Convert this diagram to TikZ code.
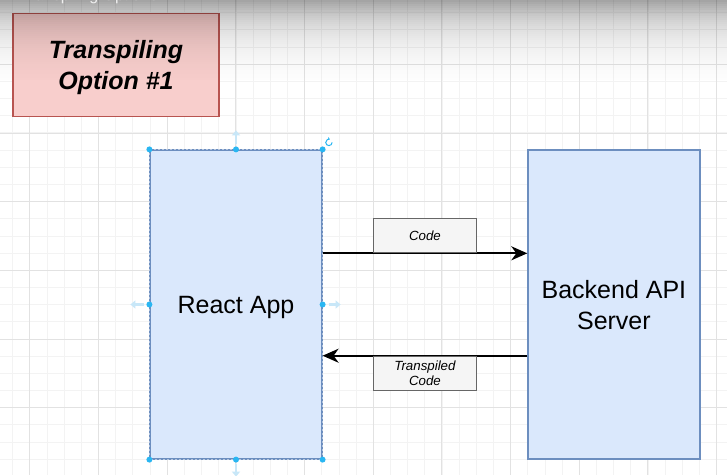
\documentclass[tikz,border=0pt]{standalone}
\usepackage{fontspec}
\setmainfont{Liberation Sans}
\usepackage{tikz}
\usetikzlibrary{arrows.meta}

\definecolor{appfill}{HTML}{DAE8FC}
\definecolor{appline}{HTML}{6C8EBF}
\definecolor{titlefill}{HTML}{F8CECC}
\definecolor{titleline}{HTML}{B85450}
\definecolor{tagfill}{HTML}{F5F5F5}
\definecolor{tagline}{HTML}{666666}
\definecolor{handle}{HTML}{29B6F2}
\definecolor{ghostblue}{HTML}{C8E7F8}
\definecolor{gridminor}{HTML}{F3F3F3}
\definecolor{gridmajor}{HTML}{E2E2E2}

\tikzset{
  block/.style={draw=appline, fill=appfill, line width=1.2pt, minimum width=172pt,
    minimum height=309pt, align=center, inner sep=0pt, text depth=0pt,
    font=\fontsize{25}{31}\selectfont},
  tag/.style={draw=tagline, fill=tagfill, line width=1pt, minimum width=103pt,
    minimum height=34pt, align=center, inner sep=0pt,
    font=\fontsize{13.3}{15}\selectfont\itshape},
  flow/.style={line width=2pt, -{Stealth[length=16pt,width=14pt,inset=5pt]}},
  ghost/.style={draw=ghostblue, line width=2.5pt, -{Triangle[length=5pt,width=8pt]}},
}

\begin{document}
\begin{tikzpicture}[x=1pt,y=-1pt]
  \useasboundingbox (0,0) rectangle (727,475);
  \fill[white] (0,0) rectangle (727,475);
  % grid
  \foreach \i in {0,...,42}
    \draw[gridminor, line width=0.8pt] ({12.7+\i*17.17},0) -- ++(0,475);
  \foreach \i in {0,...,27}
    \draw[gridminor, line width=0.8pt] (0,{12.7+\i*17.17}) -- ++(727,0);
  \foreach \i in {0,...,10}
    \draw[gridmajor, line width=0.8pt] ({29.7+\i*68.68},0) -- ++(0,475);
  \foreach \i in {1,...,7}
    \draw[gridmajor, line width=0.8pt] (0,{-4.4+\i*68.68}) -- ++(727,0);

  \node[draw=titleline, fill=titlefill, line width=1.5pt, minimum width=206pt,
    minimum height=103pt, align=center, inner sep=0pt, text depth=0pt,
    font=\fontsize{25}{31}\selectfont\bfseries\itshape] (title) at (116,64.8)
    {Transpiling\\Option \#1};

  \node[block] (react) at (236,304.5) {React App};
  \node[block] (backend) at (613.9,304.5) {Backend API\\Server};

  \path[flow] ([yshift=51.2pt]react.east) edge node[tag, above] {Code}
    ([yshift=51.2pt]backend.west);
  \path[flow] ([yshift=-51.2pt]backend.west) edge node[tag, below] {Transpiled\\Code}
    ([yshift=-51.2pt]react.west -| react.east);

  % selection handles
  \draw[white, line width=0.8pt, dash pattern=on 2pt off 2pt, opacity=0.5]
    (react.north west) rectangle (react.south east);
  \foreach \p in {north west,north,north east,west,east,south west,south,south east}
    \fill[handle] (react.\p) circle (3pt);
  \draw[ghost] ([yshift=5pt]react.north) -- ++(0,-14);
  \draw[ghost] ([xshift=-5pt]react.west) -- ++(-14,0);
  \draw[ghost] ([xshift=6pt]react.east) -- ++(12,0);
  \draw[ghost] ([yshift=-4pt]react.south) -- ++(0,13);
  \draw[handle, line width=1pt, -{Stealth[length=2.5pt,width=3pt]}]
    ([xshift=9.5pt,yshift=7pt]react.north east) arc (0:290:3.2);

  % screen shade at the top
  \foreach \i in {0,...,39} {
    \pgfmathsetmacro\shadeop{max(0,0.39*exp(-(2*\i+1)/30)-0.02)}
    \fill[black, opacity=\shadeop] (0,{2*\i}) rectangle (727,{2*\i+2});
  }
  \node[anchor=south east, text=white!94!black, inner sep=0pt,
    font=\fontsize{16}{18}\selectfont] (heading) at (158,4) {Transpiling Options};
\end{tikzpicture}
\end{document}
